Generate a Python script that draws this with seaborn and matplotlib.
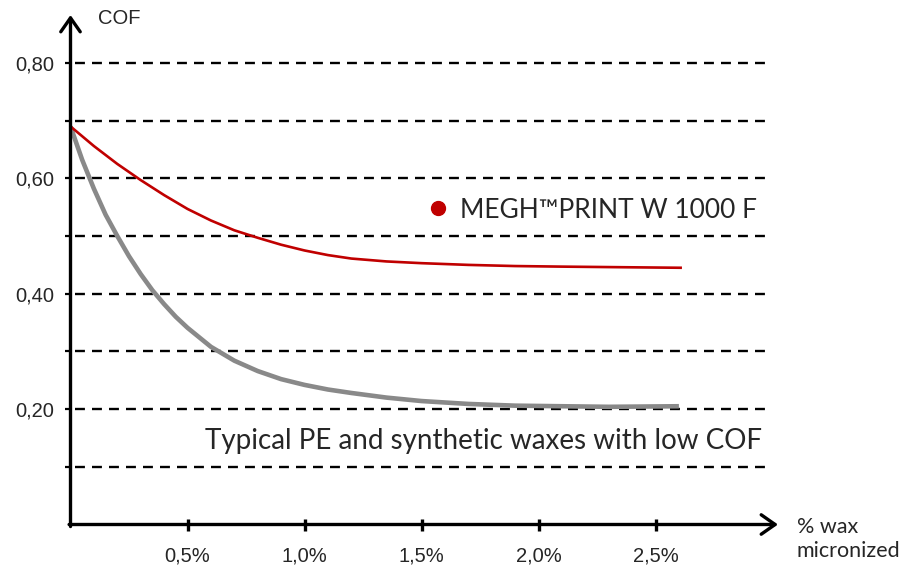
import matplotlib
matplotlib.use("Agg")
import matplotlib.pyplot as plt
from matplotlib.lines import Line2D
import seaborn as sns
import pandas as pd

# ---- data ----
red_x = [0.00, 0.10, 0.20, 0.30, 0.40, 0.50, 0.60, 0.70, 0.80, 0.90, 1.00, 1.10,
         1.20, 1.35, 1.50, 1.70, 1.90, 2.10, 2.35, 2.613]
red_y = [0.690, 0.656, 0.625, 0.597, 0.571, 0.547, 0.527, 0.510, 0.497, 0.485, 0.475, 0.467,
         0.461, 0.456, 0.453, 0.450, 0.448, 0.447, 0.446, 0.445]

gray_x = [0.00, 0.05, 0.10, 0.15, 0.20, 0.25, 0.30, 0.35, 0.40, 0.45, 0.50, 0.60, 0.70,
          0.80, 0.90, 1.00, 1.10, 1.20, 1.35, 1.50, 1.70, 1.90, 2.10, 2.30, 2.60]
gray_y = [0.690, 0.632, 0.582, 0.537, 0.500, 0.465, 0.434, 0.406, 0.382, 0.360, 0.341, 0.308, 0.284,
          0.266, 0.252, 0.242, 0.234, 0.228, 0.220, 0.214, 0.209, 0.206, 0.205, 0.204, 0.205]

x_ticks = [0.5, 1.0, 1.5, 2.0, 2.5]
x_tick_labels = ["0,5%", "1,0%", "1,5%", "2,0%", "2,5%"]
y_ticks = [0.1, 0.2, 0.3, 0.4, 0.5, 0.6, 0.7, 0.8]
y_tick_labels = ["", "0,20", "", "0,40", "", "0,60", "", "0,80"]
grid_levels = [0.1, 0.2, 0.3, 0.4, 0.5, 0.6, 0.7, 0.8]

red_label = "MEGH\u2122PRINT W 1000 F"
gray_label = "Typical PE and synthetic waxes with low COF"
y_title = "COF"
x_title = "% wax\nmicronized"

RED = "#C00000"
GRAY = "#898989"
TXT = "#262626"

sns.set_theme(style="white")
plt.rcParams["font.family"] = ["Liberation Sans", "DejaVu Sans"]

W, H = 907, 568
fig = plt.figure(figsize=(W / 100, H / 100), dpi=100)
x0_px, y0_px = 70.5, 524.5
xr_px, yt_px = 778.0, 15.0
ax = fig.add_axes([x0_px / W, (H - y0_px) / H, (xr_px - x0_px) / W, (y0_px - yt_px) / H])
ax.set_xlim(0, (xr_px - x0_px) / 234.0)
ax.set_ylim(0, (y0_px - yt_px) / 576.9)
ax.set_facecolor("white")

# dashed horizontal guide lines
ax.hlines(grid_levels, 0.02, 2.98, colors="black", linewidth=1.7,
          linestyles=[(0, (4.2, 3.0))], zorder=1)

df_gray = pd.DataFrame({"x": gray_x, "y": gray_y})
df_red = pd.DataFrame({"x": red_x, "y": red_y})
sns.lineplot(data=df_gray, x="x", y="y", color=GRAY, linewidth=3.3, ax=ax,
             sort=False, zorder=3, solid_capstyle="butt", solid_joinstyle="round")
sns.lineplot(data=df_red, x="x", y="y", color=RED, linewidth=1.9, ax=ax,
             sort=False, zorder=4, solid_capstyle="butt", solid_joinstyle="round")

for s in ax.spines.values():
    s.set_visible(False)

# axes with arrow heads
arrow_kw = dict(arrowstyle="->,head_length=0.5,head_width=0.35", lw=2.4,
                color="black", shrinkA=0, shrinkB=0, mutation_scale=20)
ax.annotate("", xy=(1, 0), xytext=(-0.002, 0), xycoords="axes fraction",
            arrowprops=arrow_kw, annotation_clip=False, zorder=5)
ax.annotate("", xy=(0, 1), xytext=(0, -0.004), xycoords="axes fraction",
            arrowprops=arrow_kw, annotation_clip=False, zorder=5)

ax.set_xticks(x_ticks)
ax.set_xticklabels(x_tick_labels)
ax.set_yticks(y_ticks)
ax.set_yticklabels(y_tick_labels)
ax.tick_params(axis="x", direction="inout", length=9, width=2.4, pad=11,
               labelsize=14.5, colors="black", bottom=True)
ax.tick_params(axis="y", direction="out", length=4, width=1.6, pad=8,
               labelsize=14.5, colors="black", left=True)
for t in ax.get_xticklabels() + ax.get_yticklabels():
    t.set_color(TXT)
ax.set_xlabel("")
ax.set_ylabel("")

txt_font = ["Lato", "DejaVu Sans"]
fig.text(119 / W, 1 - 18 / H, y_title, ha="center", va="center",
         fontsize=14.5, color=TXT)
fig.text(797 / W, 1 - 539 / H, x_title, ha="left", va="center",
         fontsize=15.5, color=TXT, family=txt_font, linespacing=1.3)

ax.text(0.575, 0.145, gray_label, ha="left", va="center", fontsize=20,
        color=TXT, family=txt_font)

handle = Line2D([], [], marker="o", color=RED, linestyle="none", markersize=10)
leg = ax.legend([handle], [red_label], loc="center left",
                bbox_to_anchor=(425.5 / W, 1 - 210 / H), bbox_transform=fig.transFigure,
                frameon=False, borderpad=0, borderaxespad=0, handlelength=0.95,
                handletextpad=0.36, prop={"family": txt_font, "size": 19})
for t in leg.get_texts():
    t.set_color(TXT)

fig.savefig("out.png", dpi=100, facecolor="white")
